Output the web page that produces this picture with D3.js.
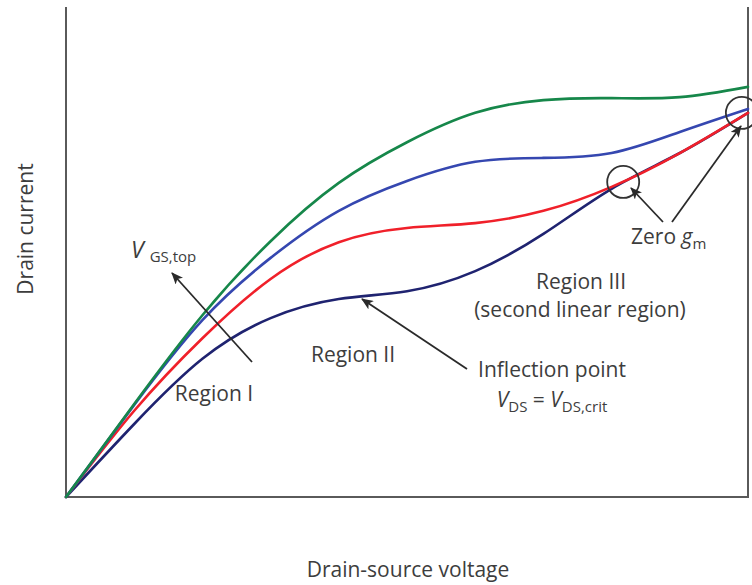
<!DOCTYPE html>
<html>
<head>
<meta charset="utf-8">
<script src="https://cdn.jsdelivr.net/npm/d3@7/dist/d3.min.js"></script>
<style>
  html, body { margin: 0; padding: 0; background: #fff; }
  svg text { font-family: "Open Sans", "DejaVu Sans", sans-serif; fill: #3d3d3d; }
</style>
</head>
<body>
<svg id="chart" width="752" height="585"></svg>
<script>
// Drain-source voltage (arbitrary units)
const vds = [0, 1, 2, 3, 4, 5, 6, 7, 8, 9, 10];

// Drain current for four gate voltages (arbitrary units), highest V_GS first
const idGreen = [0, 1.90, 3.71, 5.22, 6.41, 7.24, 7.84, 8.10, 8.14, 8.16, 8.37];
const idBlue  = [0, 1.88, 3.61, 4.88, 5.84, 6.45, 6.84, 6.92, 7.02, 7.45, 7.92];
const idRed   = [0, 1.76, 3.24, 4.45, 5.20, 5.49, 5.59, 5.84, 6.33, 7.02, 7.84];
const idNavy  = [0, 1.49, 2.82, 3.65, 4.04, 4.20, 4.61, 5.37, 6.29, 7.02, 7.84];

// Points of zero transconductance (curves meet) and the inflection point
const zeroGm = [[8.17, 6.43], [9.91, 7.84]];
const inflection = [4.34, 4.06];

const svg = d3.select("#chart");
const x = d3.scaleLinear().domain([0, 10]).range([66, 748]);
const y = d3.scaleLinear().domain([0, 10]).range([497, 7]);

// frame: left, bottom and right edges
svg.append("path")
  .attr("d", `M${x(0)},${y(10)}V${y(0)}H${x(10)}V${y(10)}`)
  .attr("stroke", "#5a5a5a").attr("stroke-width", 2).attr("fill", "none");

// arrowhead marker
svg.append("defs").append("marker")
  .attr("id", "arrow").attr("viewBox", "0 0 12 10")
  .attr("refX", 11).attr("refY", 5)
  .attr("markerWidth", 12).attr("markerHeight", 10)
  .attr("markerUnits", "userSpaceOnUse")
  .attr("orient", "auto")
  .append("path").attr("d", "M0,0L12,5L0,10L3,5Z").attr("fill", "#2a2a2a");

const line = d3.line().x(d => x(d[0])).y(d => y(d[1])).curve(d3.curveNatural);
const series = [
  { ys: idNavy,  color: "#1f2370" },
  { ys: idRed,   color: "#f0202a" },
  { ys: idBlue,  color: "#3547b0" },
  { ys: idGreen, color: "#16874a" }
];
svg.append("g").selectAll("path").data(series).join("path")
  .attr("d", s => line(vds.map((v, i) => [v, s.ys[i]])))
  .attr("fill", "none").attr("stroke", d => d.color)
  .attr("stroke-width", 2.6).attr("stroke-linecap", "round");

// circles marking zero g_m
svg.append("g").selectAll("circle").data(zeroGm).join("circle")
  .attr("cx", d => x(d[0])).attr("cy", d => y(d[1])).attr("r", 16)
  .attr("fill", "none").attr("stroke", "#333").attr("stroke-width", 1.8);

// annotation arrows
const arrows = [
  [[252, 362], [172, 273]],
  [[467, 369], [x(inflection[0]), y(inflection[1]) + 1]],
  [[663, 222], [631, 188]],
  [[672, 222], [741, 126]]
];
svg.append("g").selectAll("line").data(arrows).join("line")
  .attr("x1", d => d[0][0]).attr("y1", d => d[0][1])
  .attr("x2", d => d[1][0]).attr("y2", d => d[1][1])
  .attr("stroke", "#2a2a2a").attr("stroke-width", 1.8)
  .attr("marker-end", "url(#arrow)");

// text labels
const fs = 21;
function label(px, py, anchor) {
  return svg.append("text").attr("x", px).attr("y", py)
    .attr("text-anchor", anchor).attr("font-size", fs);
}
label(214, 401, "middle").text("Region I");
label(353, 362, "middle").text("Region II");
label(581, 289, "middle").text("Region III");
label(580, 317, "middle").text("(second linear region)");
label(552, 377, "middle").text("Inflection point");

// V_GS,top
const vgs = svg.append("text").attr("x", 131).attr("y", 258).attr("font-size", 23);
vgs.append("tspan").attr("font-style", "italic").text("V");
vgs.append("tspan").attr("dx", 6).attr("dy", 4).attr("font-size", 15).text("GS,top");

// V_DS = V_DS,crit
const vdsLabel = svg.append("text").attr("x", 552).attr("y", 407).attr("text-anchor", "middle").attr("font-size", fs);
vdsLabel.append("tspan").attr("font-style", "italic").text("V");
vdsLabel.append("tspan").attr("dy", 5).attr("font-size", 15).text("DS");
vdsLabel.append("tspan").attr("dy", -5).text(" = ");
vdsLabel.append("tspan").attr("font-style", "italic").text("V");
vdsLabel.append("tspan").attr("dy", 5).attr("font-size", 15).text("DS,crit");

// Zero g_m
const zg = svg.append("text").attr("x", 631).attr("y", 244).attr("font-size", fs);
zg.append("tspan").text("Zero ");
zg.append("tspan").attr("font-style", "italic").text("g");
zg.append("tspan").attr("dy", 5).attr("font-size", 15).text("m");

// axis titles
svg.append("text").attr("x", 408).attr("y", 577).attr("text-anchor", "middle")
  .attr("font-size", fs).text("Drain-source voltage");
svg.append("text").attr("transform", "translate(33,229) rotate(-90)")
  .attr("text-anchor", "middle").attr("font-size", fs).text("Drain current");
</script>
</body>
</html>
